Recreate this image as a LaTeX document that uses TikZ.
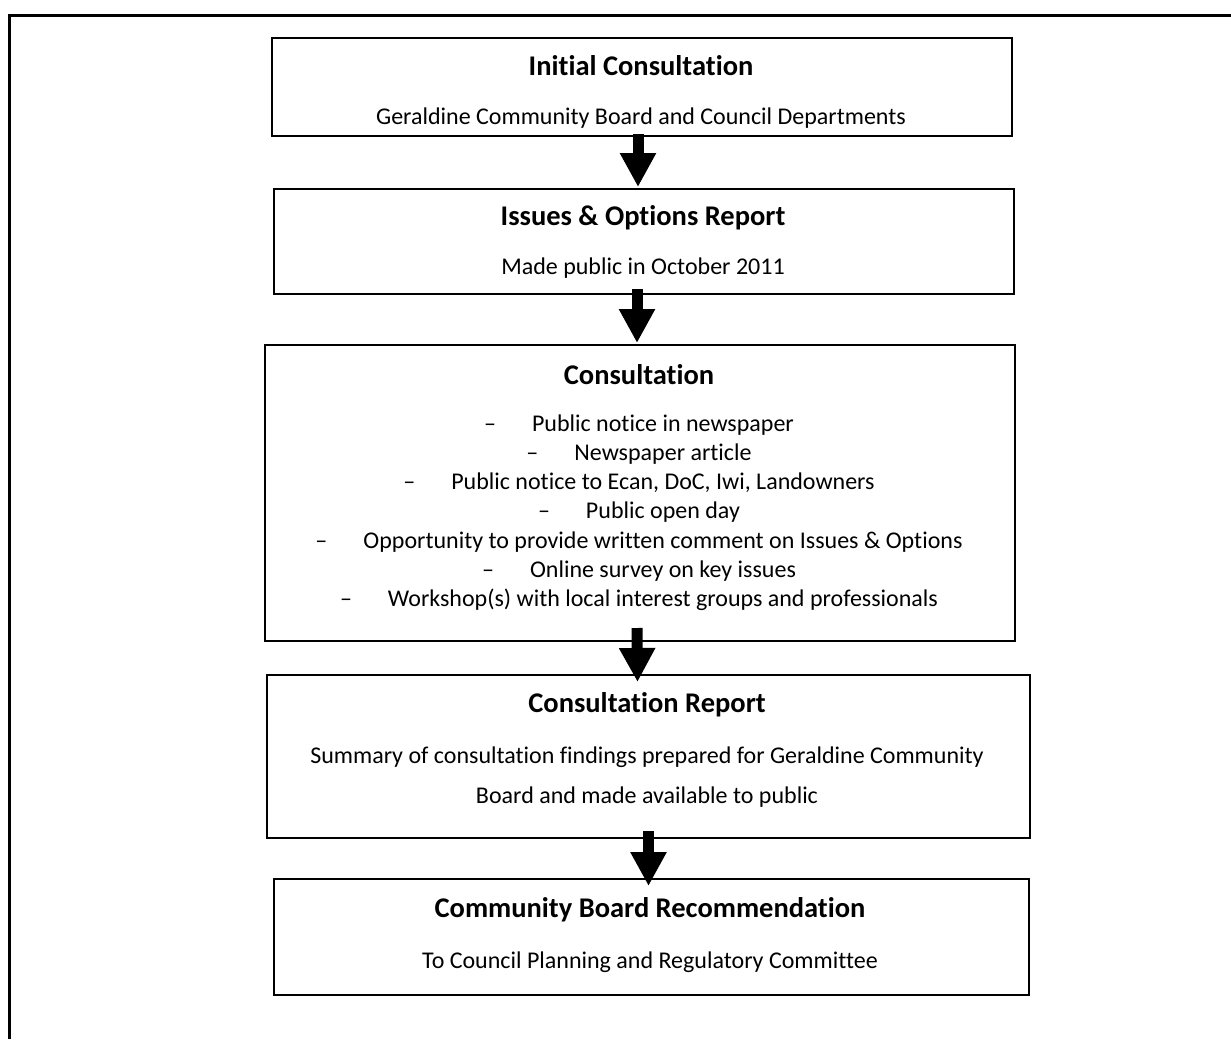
\documentclass[tikz,border=0pt]{standalone}
\usepackage{fontspec}
\setmainfont{Carlito}[RawFeature=-liga]
\usetikzlibrary{arrows.meta,calc}
\begin{document}
\begin{tikzpicture}[x=1pt,y=-1pt,
  stagebox/.style={draw=black,line width=2pt,inner sep=0pt,anchor=north west},
  ttl/.style={font=\fontsize{28.5}{33}\selectfont\bfseries,inner sep=0pt},
  txt/.style={font=\fontsize{24}{28}\selectfont,inner sep=0pt},
  bigarrow/.style={line width=11pt,-{Triangle[width=34pt,length=34pt]}}]
\useasboundingbox (0,0) rectangle (1231,1039);
% outer frame (open at right and bottom)
\draw[line width=3pt] (9,1039) -- (9,15) -- (1231,15);
% boxes
\node[stagebox,minimum width=740pt,minimum height=98pt] (b1) at (271,37) {};
\node[stagebox,minimum width=740pt,minimum height=105pt] (b2) at (273,188) {};
\node[stagebox,minimum width=750pt,minimum height=296pt] (b3) at (264,344) {};
\node[stagebox,minimum width=763pt,minimum height=163pt] (b4) at (266,674) {};
\node[stagebox,minimum width=755pt,minimum height=116pt] (b5) at (273,878) {};
% box 1
\node[ttl] (t1) at (641,66) {Initial Consultation};
\node[txt] (s1) at (641,118) {Geraldine Community Board and Council Departments};
% box 2
\node[ttl] (t2) at (643,218) {Issues \& Options Report};
\node[txt] (s2) at (643,268) {Made public in October 2011};
% box 3
\node[ttl] (t3) at (639,375) {Consultation};
\node[txt] (i1) at (639,425) {–\hspace{36pt}Public notice in newspaper};
\node[txt] (i2) at (639,454) {–\hspace{36pt}Newspaper article};
\node[txt] (i3) at (639,483) {–\hspace{36pt}Public notice to Ecan, DoC, Iwi, Landowners};
\node[txt] (i4) at (639,512) {–\hspace{36pt}Public open day};
\node[txt] (i5) at (639,542) {–\hspace{36pt}Opportunity to provide written comment on Issues \& Options};
\node[txt] (i6) at (639,571) {–\hspace{36pt}Online survey on key issues};
\node[txt] (i7) at (639,600) {–\hspace{36pt}Workshop(s) with local interest groups and professionals};
% box 4
\node[ttl] (t4) at (647,705) {Consultation Report};
\node[txt] (s4a) at (647,757) {Summary of consultation findings prepared for Geraldine Community};
\node[txt] (s4b) at (647,797) {Board and made available to public};
% box 5
\node[ttl] (t5) at (650,910) {Community Board Recommendation};
\node[txt] (s5) at (650,962) {To Council Planning and Regulatory Committee};
% arrows
\draw[bigarrow] ($(b1.south)+(-4,-3)$) -- ($(b2.north)+(-6,-1)$);
\draw[bigarrow] ($(b2.south)+(-7,-6)$) -- ($(b3.north)+(-3,-1)$);
\draw[bigarrow] ($(b3.south)+(-3,-14)$) -- ($(b4.north)+(-11,8)$);
\draw[bigarrow] ($(b4.south)+(0,-8)$) -- ($(b5.north)+(-3,8)$);
\end{tikzpicture}
\end{document}
